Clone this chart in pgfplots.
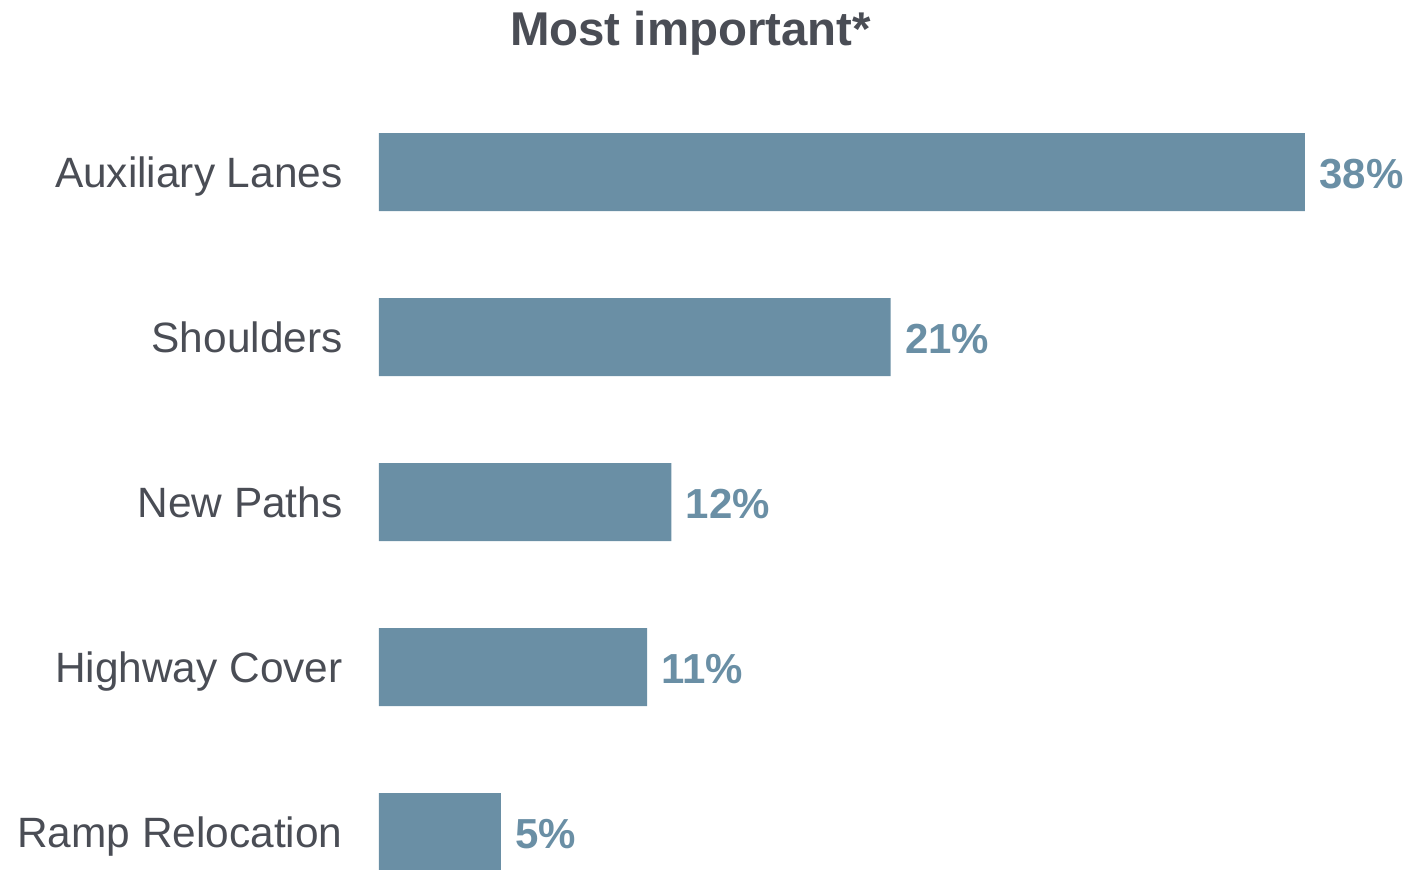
\documentclass[border=0pt]{standalone}
\usepackage{pgfplots}
\pgfplotsset{compat=1.18}
\usepackage{fontspec}
\setmainfont{Liberation Sans}
\definecolor{barc}{HTML}{6A8FA5}
\definecolor{txt}{HTML}{4A4D55}
\begin{document}
\begin{tikzpicture}
\begin{axis}[
  name=ax,
  scale only axis,
  width=463pt, height=389.75pt,
  xbar, bar width=39pt,
  xmin=0, xmax=38,
  ymin=-0.5, ymax=4.2242,
  y dir=reverse,
  axis line style={draw=none},
  xtick=\empty,
  ytick={0,1,2,3,4},
  yticklabels={Auxiliary Lanes, Shoulders, New Paths, Highway Cover, Ramp Relocation},
  major tick length=0pt,
  yticklabel style={anchor=base east, inner sep=0pt, xshift=-18pt, yshift=-7.8pt,
    font=\fontsize{21.2}{25}\selectfont, text=txt},
  nodes near coords={\pgfmathprintnumber[assume math mode=true]{\pgfplotspointmeta}\%},
  nodes near coords style={font=\fontsize{21}{24}\selectfont\bfseries, text=barc,
    anchor=base west, inner sep=0pt, xshift=7pt, yshift=-8pt},
  clip=false,
]
\addplot[fill=barc, draw=none] coordinates {(38,0) (21,1) (12,2) (11,3) (5,4)};
\end{axis}
\node[anchor=base, font=\fontsize{23.7}{28}\selectfont\bfseries, text=txt, inner sep=0pt]
  at ([xshift=155.75pt, yshift=411.5pt]ax.south west) {Most important*};
\pgfresetboundingbox
\path[use as bounding box] ([xshift=-189.5pt]ax.south west) rectangle ([xshift=515pt, yshift=434.5pt]ax.south west);
\end{tikzpicture}
\end{document}
